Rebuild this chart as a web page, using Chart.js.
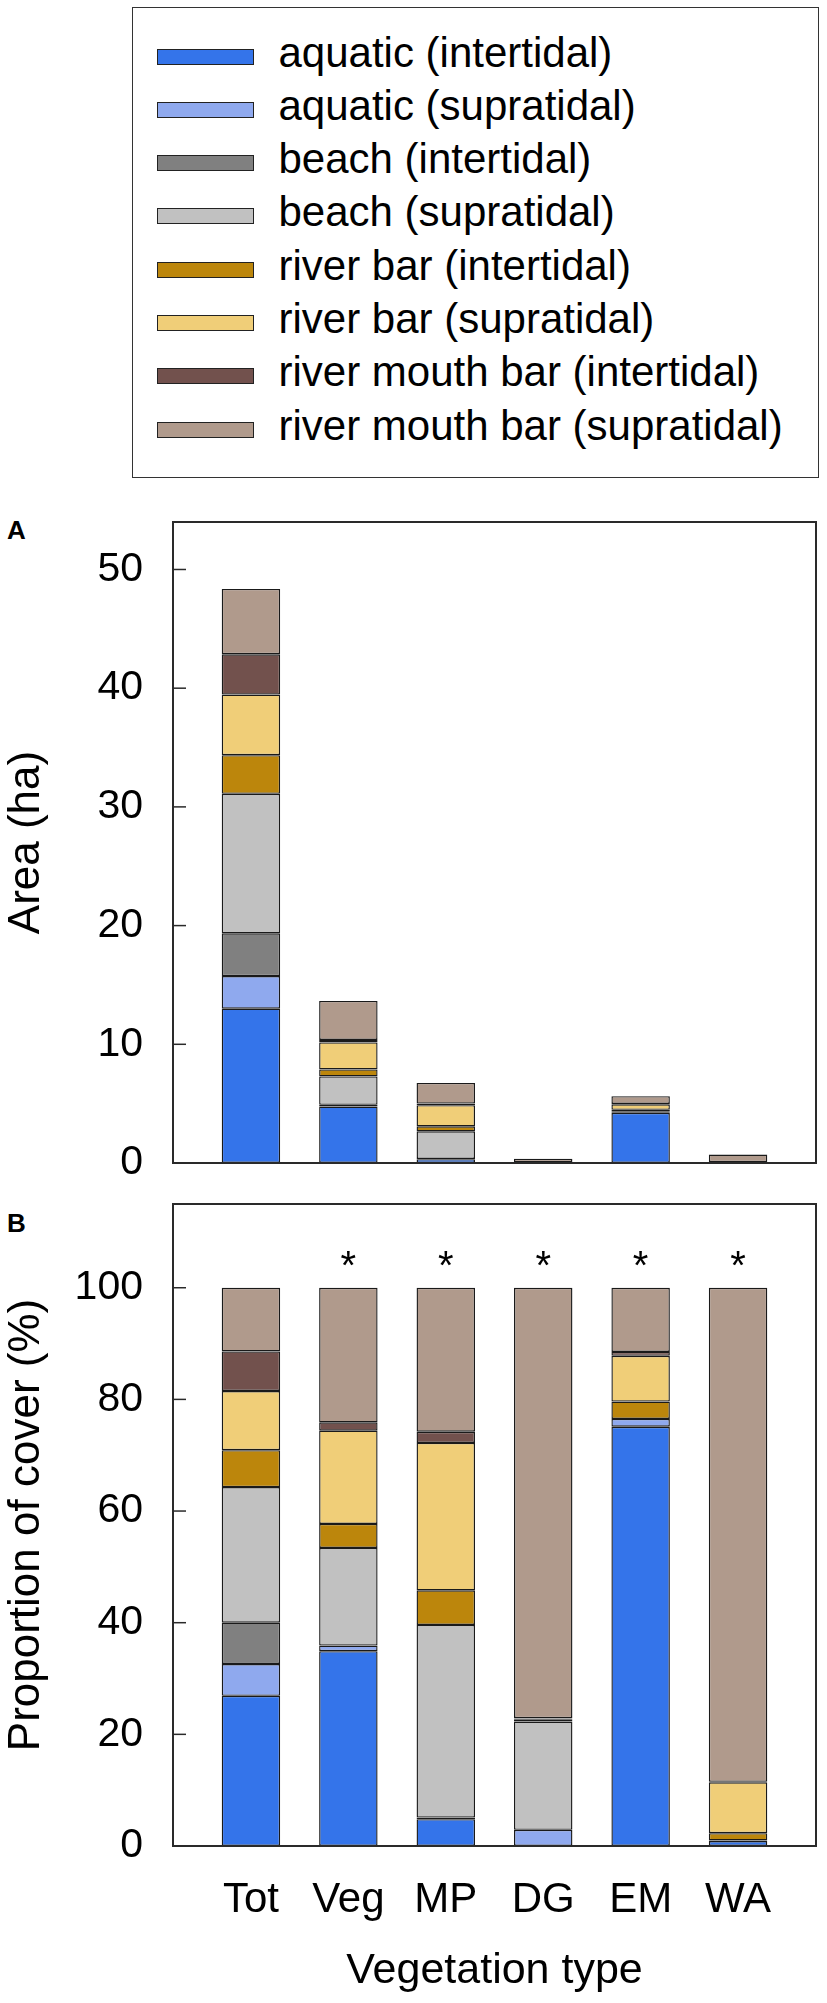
<!DOCTYPE html>
<html><head><meta charset="utf-8">
<script src="https://cdn.jsdelivr.net/npm/chart.js@4.4.1/dist/chart.umd.min.js"></script>
<style>
html,body{margin:0;padding:0;background:#fff;}
body{width:827px;height:2003px;position:relative;overflow:hidden;font-family:"Liberation Sans",Arial,sans-serif;}
#legend{position:absolute;left:132px;top:7px;width:687px;height:471px;border:1.5px solid #333;box-sizing:border-box;}
.sw{position:absolute;left:23.5px;width:97px;height:16px;border:1.5px solid #222;box-sizing:border-box;}
.lt{position:absolute;left:145.5px;font-size:42px;line-height:54px;white-space:nowrap;color:#000;}
.plab{position:absolute;font-weight:bold;font-size:26px;line-height:26px;color:#000;}
canvas{position:absolute;left:0;}
</style></head><body>
<div id="legend"></div>
<div class="plab" style="left:7px;top:517px;">A</div>
<div class="plab" style="left:7px;top:1210px;">B</div>
<canvas id="cA" width="827" height="700" style="top:480px;width:827px;height:700px;"></canvas>
<canvas id="cB" width="827" height="818" style="top:1185px;width:827px;height:818px;"></canvas>
<script>
// ---- data ----
const categories = ['Tot', 'Veg', 'MP', 'DG', 'EM', 'WA'];
const seriesNames = [
  'aquatic (intertidal)', 'aquatic (supratidal)', 'beach (intertidal)', 'beach (supratidal)',
  'river bar (intertidal)', 'river bar (supratidal)', 'river mouth bar (intertidal)', 'river mouth bar (supratidal)'
];
const seriesColors = ['#3474EA', '#8FA9EE', '#808080', '#C1C1C1', '#BC860C', '#F0CE78', '#72514D', '#B09A8C'];

// Panel A: area (ha)
const aquaticIntertidalHa       = [13.0, 4.76, 0.32, 0,     4.23, 0.01];
const aquaticSupratidalHa       = [2.75, 0.14, 0.02, 0.01,  0.08, 0];
const beachIntertidalHa         = [3.6,  0,    0,    0,     0,    0];
const beachSupratidalHa         = [11.75,2.39, 2.33, 0.07,  0,    0];
const riverBarIntertidalHa      = [3.26, 0.59, 0.42, 0.001, 0.17, 0.01];
const riverBarSupratidalHa      = [5.1,  2.28, 1.78, 0.001, 0.46, 0.06];
const riverMouthBarIntertidalHa = [3.4,  0.2,  0.14, 0,     0.04, 0];
const riverMouthBarSupratidalHa = [5.5,  3.29, 1.74, 0.28,  0.65, 0.63];

// Panel B: proportion of cover (%)
const aquaticIntertidalPct       = [26.9, 34.9, 4.8,  0,    75.1, 0.9];
const aquaticSupratidalPct       = [5.7,  1.0,  0.3,  2.9,  1.4,  0.1];
const beachIntertidalPct         = [7.4,  0,    0,    0,    0,    0];
const beachSupratidalPct         = [24.3, 17.5, 34.5, 19.4, 0,    0];
const riverBarIntertidalPct      = [6.6,  4.3,  6.2,  0.3,  3.1,  1.3];
const riverBarSupratidalPct      = [10.6, 16.7, 26.4, 0.2,  8.2,  9.1];
const riverMouthBarIntertidalPct = [7.1,  1.5,  2.0,  0.1,  0.7,  0.1];
const riverMouthBarSupratidalPct = [11.4, 24.1, 25.8, 77.1, 11.5, 88.5];

const significant = [false, true, true, true, true, true];
const yTicksA = [0, 10, 20, 30, 40, 50];
const yTicksB = [0, 20, 40, 60, 80, 100];

// ---- legend ----
const legend = document.getElementById('legend');
seriesNames.forEach((name, i) => {
  const c = 48.5 + 53.3 * i;
  const sw = document.createElement('div');
  sw.className = 'sw'; sw.style.top = (c - 8) + 'px'; sw.style.background = seriesColors[i];
  legend.appendChild(sw);
  const t = document.createElement('div');
  t.className = 'lt'; t.style.top = (c - 31) + 'px'; t.textContent = name;
  legend.appendChild(t);
});

// ---- charts ----
Chart.defaults.font.family = '"Liberation Sans", Arial, sans-serif';
Chart.defaults.color = '#000';

const areaSeries = [aquaticIntertidalHa, aquaticSupratidalHa, beachIntertidalHa, beachSupratidalHa,
  riverBarIntertidalHa, riverBarSupratidalHa, riverMouthBarIntertidalHa, riverMouthBarSupratidalHa];
const pctSeries = [aquaticIntertidalPct, aquaticSupratidalPct, beachIntertidalPct, beachSupratidalPct,
  riverBarIntertidalPct, riverBarSupratidalPct, riverMouthBarIntertidalPct, riverMouthBarSupratidalPct];

function makeDatasets(series) {
  return series.map((vals, i) => ({
    label: seriesNames[i],
    data: vals.map((v, j) => ({ x: j, y: v })),
    backgroundColor: seriesColors[i],
    borderColor: '#1a1a1a',
    borderWidth: 1.4,
    borderSkipped: false,
    barPercentage: 0.6,
    categoryPercentage: 1.0
  }));
}

const framePlugin = {
  id: 'frame',
  afterDraw(chart) {
    const { ctx, chartArea: a } = chart;
    const y = chart.scales.y;
    ctx.save();
    ctx.strokeStyle = '#2a2a2a';
    ctx.lineWidth = 2;
    ctx.strokeRect(a.left, a.top, a.right - a.left, a.bottom - a.top);
    ctx.lineWidth = 1.5;
    y.ticks.forEach(t => {
      const py = y.getPixelForValue(t.value);
      ctx.beginPath(); ctx.moveTo(a.left, py); ctx.lineTo(a.left + 13, py); ctx.stroke();
    });
    ctx.restore();
  }
};

const starPlugin = {
  id: 'stars',
  afterDraw(chart) {
    const { ctx } = chart;
    const x = chart.scales.x, y = chart.scales.y;
    ctx.save();
    ctx.fillStyle = '#000';
    ctx.font = '40px "Liberation Sans", Arial, sans-serif';
    ctx.textAlign = 'center';
    ctx.textBaseline = 'alphabetic';
    significant.forEach((s, i) => {
      if (s) ctx.fillText('*', x.getPixelForValue(i), y.getPixelForValue(101.5));
    });
    ctx.restore();
  }
};

function zeroPad(s) { s.paddingTop = 0; s.paddingBottom = 0; s.paddingLeft = 0; s.paddingRight = 0; }

function xScale(showLabels) {
  return {
    type: 'linear', min: -0.8, max: 5.8, stacked: true, offset: false,
    display: showLabels,
    grid: { display: false, offset: false },
    border: { display: false },
    afterBuildTicks: s => { s.ticks = categories.map((_, i) => ({ value: i })); },
    ticks: { font: { size: 42 }, color: '#000', padding: 21, autoSkip: false, maxRotation: 0,
      callback: v => categories[v] },
    title: { display: true, text: 'Vegetation type', font: { size: 43 }, color: '#000', padding: 0 },
    afterFit: s => { zeroPad(s); s.height = showLabels ? 151 : 0; }
  };
}

function yScale(max, ticks, title) {
  return {
    type: 'linear', min: 0, max: max, stacked: true,
    grid: { display: false },
    border: { display: false },
    afterBuildTicks: s => { s.ticks = ticks.map(v => ({ value: v })); },
    ticks: { font: { size: 41 }, color: '#000', padding: 22 },
    title: { display: true, text: title, font: { size: 44 }, color: '#000', padding: 0 },
    afterFit: s => { zeroPad(s); s.width = 173; }
  };
}

new Chart(document.getElementById('cA'), {
  type: 'bar',
  data: { datasets: makeDatasets(areaSeries) },
  options: {
    responsive: false, animation: false,
    layout: { padding: { left: 0, right: 11, top: 42, bottom: 17 } },
    plugins: { legend: { display: false }, tooltip: { enabled: false } },
    scales: { x: xScale(false), y: yScale(54, yTicksA, 'Area (ha)') }
  },
  plugins: [framePlugin]
});

new Chart(document.getElementById('cB'), {
  type: 'bar',
  data: { datasets: makeDatasets(pctSeries) },
  options: {
    responsive: false, animation: false,
    layout: { padding: { left: 0, right: 11, top: 19, bottom: 6 } },
    plugins: { legend: { display: false }, tooltip: { enabled: false } },
    scales: { x: xScale(true), y: yScale(115, yTicksB, 'Proportion of cover (%)') }
  },
  plugins: [framePlugin, starPlugin]
});
</script>
</body></html>
